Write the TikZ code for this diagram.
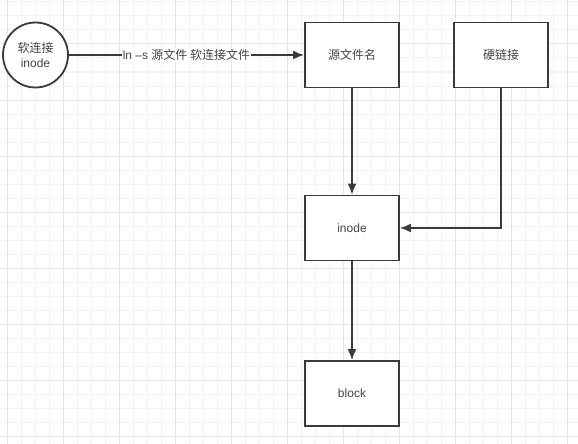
\documentclass[tikz,border=0pt]{standalone}
\usepackage{fontspec}
\setmainfont{Liberation Sans}
\newfontfamily\cjk{Noto Sans CJK SC}
\usetikzlibrary{arrows.meta}
\definecolor{minorgrid}{HTML}{F2F2F2}
\definecolor{majorgrid}{HTML}{E4E4E4}
\definecolor{edge}{HTML}{3A3A3A}
\definecolor{txt}{HTML}{444444}
\tikzset{
  box/.style={draw=edge,line width=1.8pt,fill=white,minimum width=94pt,minimum height=65pt,
    text=txt,font=\fontsize{12}{14}\selectfont},
  ring/.style={draw=edge,line width=1.8pt,fill=white,circle,minimum size=65pt,inner sep=0pt,
    align=center,text=txt,font=\fontsize{12}{15}\selectfont},
  arr/.style={draw=edge,line width=1.8pt,-{Latex[length=11pt,width=9pt]}}
}
\begin{document}
\begin{tikzpicture}[x=1pt,y=-1pt]
    \useasboundingbox[fill=white] (0,0) rectangle (578,444);
    % grid
    \foreach \gx in {7,21,...,577} \draw[minorgrid,line width=1pt] (\gx,0) -- (\gx,444);
    \foreach \gy in {2,16,...,443} \draw[minorgrid,line width=1pt] (0,\gy) -- (578,\gy);
    \foreach \gx in {7,63,...,577} \draw[majorgrid,line width=1pt] (\gx,0) -- (\gx,444);
    \foreach \gy in {44,100,...,443} \draw[majorgrid,line width=1pt] (0,\gy) -- (578,\gy);
    % nodes
    \node[ring] (soft) at (35.5,55) {{\cjk 软连接}\\inode};
    \node[box] (src) at (352,55) {\cjk 源文件名};
    \node[box] (hard) at (501,55) {\cjk 硬链接};
    \node[box] (inode) at (352,228) {inode};
    \node[box] (block) at (352,393.5) {block};
    % links
    \draw[arr] (soft) -- (src) node[midway,fill=white,inner sep=1pt,text=txt,
        font=\fontsize{12}{14}\selectfont] {ln –s {\cjk 源文件 软连接文件}};
    \draw[arr] (src) -- (inode);
    \draw[arr] (hard.south) |- (inode.east);
    \draw[arr] (inode) -- (block);
\end{tikzpicture}
\end{document}
